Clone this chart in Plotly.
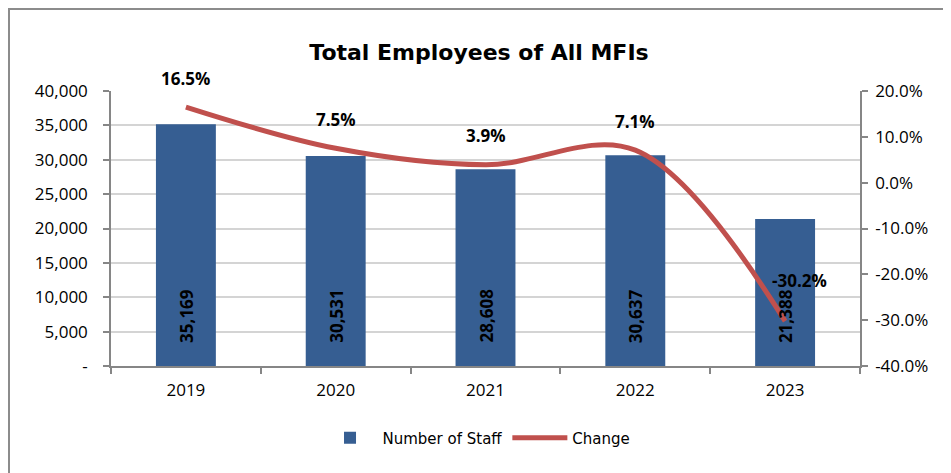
import plotly.graph_objects as go

years = ["2019", "2020", "2021", "2022", "2023"]
staff = [35169, 30531, 28608, 30637, 21388]
change = [16.5, 7.5, 3.9, 7.1, -30.2]

left_ticks = [0, 5000, 10000, 15000, 20000, 25000, 30000, 35000, 40000]
left_ticktext = ["-", "5,000", "10,000", "15,000", "20,000", "25,000", "30,000", "35,000", "40,000"]
right_ticks = [-40, -30, -20, -10, 0, 10, 20]
right_ticktext = ["-40.0%", "-30.0%", "-20.0%", "-10.0%", "0.0%", "10.0%", "20.0%"]

BAR = "#365E92"
LINE = "#C0504D"
AXIS = "#868686"
GRID = "#D4D4D4"
TICKFONT = dict(family="Open Sans, Noto Sans, sans-serif", size=17, color="#000000")
LABELFONT = dict(family="Open Sans, sans-serif", size=17, color="#000000", weight="bold")

fig = go.Figure()
fig.add_trace(go.Bar(x=years, y=staff, name="Number of Staff", marker=dict(color=BAR, line=dict(width=0)),
                     yaxis="y"))
fig.add_trace(go.Scatter(x=years, y=change, name="Change", mode="lines",
                         line=dict(color=LINE, width=5, shape="spline", smoothing=1.0), yaxis="y2"))

annotations = []
for i, v in enumerate(staff):
    annotations.append(dict(x=i, y=0, xref="x", yref="y", text=f"{v:,}", showarrow=False,
                            textangle=-90, xanchor="center", yanchor="middle", yshift=50,
                            font=LABELFONT))
label_shift = {4: (14, 41)}
for i, c in enumerate(change):
    xs, ys = label_shift.get(i, (0, 29))
    annotations.append(dict(x=i, y=c, xref="x", yref="y2", text=f"{c:.1f}%", showarrow=False,
                            xanchor="center", yanchor="middle", xshift=xs, yshift=ys,
                            font=LABELFONT))

# page has an 8px body margin; figure sized to fit the 951x473 window
OFF = 8
W, H = 951 - OFF, 473 - OFF
ml, mt = 111 - OFF, 91 - OFF
mr, mb = W - (860 - OFF), H - (366 - OFF)
pw, ph = W - ml - mr, H - mt - mb

fig.update_layout(
    width=W, height=H,
    margin=dict(l=ml, r=mr, t=mt, b=mb, autoexpand=False),
    paper_bgcolor="#FFFFFF", plot_bgcolor="#FFFFFF",
    title=dict(text="<b>Total Employees of All MFIs</b>", x=(479 - OFF) / W, xanchor="center", xref="container",
               y=1 - (52 - OFF) / H, yanchor="middle", yref="container",
               font=dict(family="DejaVu Sans, sans-serif", size=22, color="#000000")),
    bargap=0.6,
    showlegend=True,
    legend=dict(orientation="h", x=0.488, xanchor="center", y=(366 - 438) / ph, yanchor="middle",
                font=dict(family="DejaVu Sans, sans-serif", size=15, color="#000000"),
                itemwidth=55, traceorder="normal"),
    xaxis=dict(type="category", range=[-0.5, len(years) - 0.5], autorange=False, showline=True,
               linecolor=AXIS, linewidth=1.5, ticks="outside",
               tickson="boundaries", ticklen=6, tickcolor=AXIS, tickwidth=1.5, showgrid=False,
               tickfont=TICKFONT, tickangle=0, ticklabelstandoff=8),
    yaxis=dict(range=[0, 40000], tickvals=left_ticks, ticktext=left_ticktext, showline=True,
               linecolor=AXIS, linewidth=1.5, ticks="outside", ticklen=6, tickcolor=AXIS, tickwidth=1.5,
               showgrid=True, gridcolor=GRID, gridwidth=1.5, zeroline=False, tickfont=TICKFONT,
               ticklabelstandoff=12),
    yaxis2=dict(range=[-40, 20], tickvals=right_ticks, ticktext=right_ticktext, overlaying="y", side="right",
                showline=True, linecolor=AXIS, linewidth=1.5, ticks="outside", ticklen=6, tickcolor=AXIS,
                tickwidth=1.5, showgrid=False, zeroline=False, tickfont=TICKFONT, ticklabelstandoff=4),
    annotations=annotations,
    shapes=[dict(type="rect", xref="paper", yref="paper",
                 x0=(1 - ml) / pw, x1=(1000 - ml) / pw, y0=-(H + 50 - mt - ph) / ph, y1=(ph + mt - 1) / ph,
                 line=dict(color="#8C8C8C", width=2), fillcolor="rgba(0,0,0,0)", layer="below")],
)

fig.write_html("out.html")
